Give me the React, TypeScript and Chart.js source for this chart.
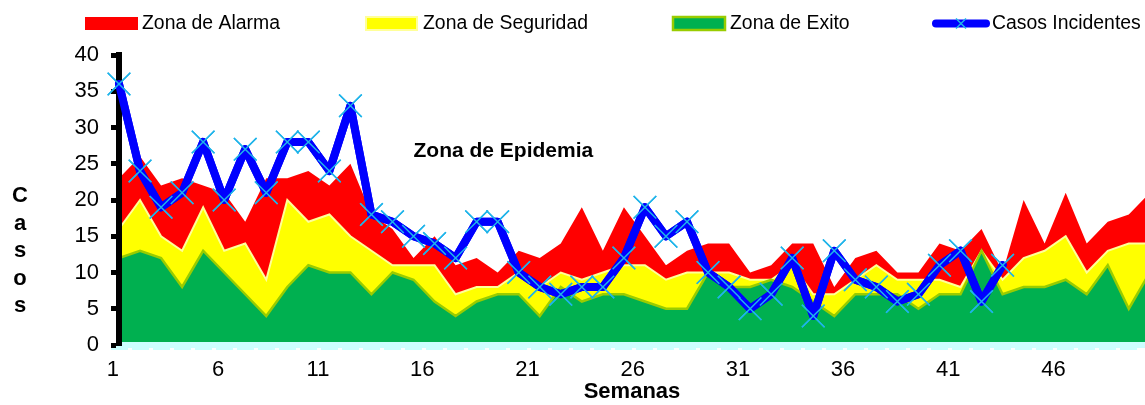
import React, { useEffect, useRef } from 'react';
import { Chart, registerables } from 'chart.js';

Chart.register(...registerables);

const FONT = "'Liberation Sans', Arial, Helvetica, sans-serif";

// ---- data ----
const weeks = [
  1, 2, 3, 4, 5, 6, 7, 8, 9, 10, 11, 12, 13, 14, 15, 16, 17, 18, 19, 20, 21, 22, 23, 24, 25,
  26, 27, 28, 29, 30, 31, 32, 33, 34, 35, 36, 37, 38, 39, 40, 41, 42, 43, 44, 45, 46, 47, 48, 49, 50,
];
const xTickLabels = [1, 6, 11, 16, 21, 26, 31, 36, 41, 46];

const zonaAlarma = [
  23, 26, 22, 23, 22, 21, 17, 23, 23, 24, 22, 25, 18, 16, 12, 15, 11, 12, 10, 13, 12, 14, 19, 13, 19,
  15, 11, 13, 14, 14, 10, 11, 14, 14, 8, 12, 13, 10, 10, 14, 13, 16, 10, 20, 14, 21, 14, 17, 18, 21,
];
const zonaSeguridad = [
  16, 20, 15, 13, 19, 13, 14, 9, 20, 17, 18, 15, 13, 11, 11, 11, 7, 8, 8, 10, 8, 10, 9, 10, 11,
  11, 9, 10, 10, 10, 9, 9, 11, 7, 7, 9, 11, 9, 9, 9, 8, 13, 9, 12, 13, 15, 10, 13, 14, 14,
];
const zonaExito = [
  12, 13, 12, 8, 13, 10, 7, 4, 8, 11, 10, 10, 7, 10, 9, 6, 4, 6, 7, 7, 4, 8, 6, 7, 7,
  6, 5, 5, 10, 8, 8, 9, 8, 6, 4, 7, 7, 7, 5, 7, 7, 13, 7, 8, 8, 9, 7, 11, 5, 10,
];
const casosIncidentes = [
  36, 24, 19, 21, 28, 20, 27, 21, 28, 28, 24, 33, 18, 17, 15, 14, 12, 17, 17, 10, 8, 7, 8, 8, 12,
  19, 15, 17, 10, 8, 5, 7, 12, 4, 13, 9, 8, 6, 7, 11, 13, 6, 11,
];

const seriesLabels = ['Zona de Alarma', 'Zona de Seguridad', 'Zona de Exito', 'Casos Incidentes'];
const yTitle = 'Casos';
const xTitle = 'Semanas';
const noteText = 'Zona de Epidemia';
const noteWeek = 15;
const noteValue = 26;

const X_MIN = 1;
const X_MAX = 49.77;
const Y_MIN = 0;
const Y_MAX = 40;
const Y_STEP = 5;

const toPoints = (vals: number[]) => vals.map((v, i) => ({ x: weeks[i], y: v }));

// ---- legend / decoration layout ----
const LEGEND_Y = 23.5;
const legendItems = [
  { ds: 3, kind: 'box', x: 85, w: 53, textX: 142 },
  { ds: 2, kind: 'box', x: 366, w: 51, textX: 423 },
  { ds: 1, kind: 'box', x: 673, w: 52, textX: 730 },
  { ds: 0, kind: 'line', x: 936, w: 50, textX: 992 },
];

const decorPlugin = {
  id: 'decor',
  afterDraw(chart: any) {
    const ctx: CanvasRenderingContext2D = chart.ctx;
    // incident line above the axis lines
    const meta = chart.getDatasetMeta(0);
    ctx.save();
    meta.controller.draw();
    ctx.restore();

    // legend
    ctx.save();
    legendItems.forEach((it) => {
      const ds = chart.data.datasets[it.ds];
      if (it.kind === 'box') {
        ctx.fillStyle = ds.backgroundColor;
        ctx.fillRect(it.x, LEGEND_Y - 6.5, it.w, 13);
        if (ds.borderWidth > 0) {
          ctx.strokeStyle = ds.borderColor;
          ctx.lineWidth = ds.borderWidth;
          ctx.strokeRect(it.x, LEGEND_Y - 6.5, it.w, 13);
        }
      } else {
        ctx.strokeStyle = ds.borderColor;
        ctx.lineWidth = 8;
        ctx.lineCap = 'round';
        ctx.beginPath();
        ctx.moveTo(it.x, LEGEND_Y);
        ctx.lineTo(it.x + it.w, LEGEND_Y);
        ctx.stroke();
        const cx = it.x + it.w / 2;
        ctx.strokeStyle = ds.pointBorderColor;
        ctx.lineWidth = 1.5;
        ctx.lineCap = 'butt';
        ctx.beginPath();
        ctx.moveTo(cx - 5, LEGEND_Y - 5);
        ctx.lineTo(cx + 5, LEGEND_Y + 5);
        ctx.moveTo(cx - 5, LEGEND_Y + 5);
        ctx.lineTo(cx + 5, LEGEND_Y - 5);
        ctx.stroke();
      }
      ctx.fillStyle = '#000';
      ctx.font = `19.4px ${FONT}`;
      ctx.textAlign = 'left';
      ctx.textBaseline = 'middle';
      ctx.fillText(ds.label, it.textX, LEGEND_Y + 0.5);
    });

    // vertical y title
    ctx.font = `bold 22px ${FONT}`;
    ctx.textAlign = 'center';
    ctx.textBaseline = 'alphabetic';
    ctx.fillStyle = '#000';
    yTitle.split('').forEach((ch, i) => {
      ctx.fillText(ch, 20, 202 + i * 27.5);
    });

    // zone note
    const xs = chart.scales.x;
    const ys = chart.scales.y;
    ctx.font = `bold 21px ${FONT}`;
    ctx.textAlign = 'left';
    ctx.fillText(noteText, xs.getPixelForValue(noteWeek), ys.getPixelForValue(noteValue));
    ctx.restore();
  },
};

export default function App() {
  const ref = useRef<HTMLCanvasElement>(null);

  useEffect(() => {
    if (!ref.current) return;
    const chart = new Chart(ref.current, {
      type: 'line',
      data: {
        datasets: [
          {
            label: seriesLabels[3],
            data: toPoints(casosIncidentes),
            borderColor: '#0000FF',
            backgroundColor: '#0000FF',
            borderWidth: 8,
            borderJoinStyle: 'round',
            borderCapStyle: 'round',
            pointStyle: 'crossRot',
            pointRadius: 16,
            pointBorderColor: '#1FB4EA',
            pointBackgroundColor: 'rgba(0,0,0,0)',
            pointBorderWidth: 1.5,
            fill: false,
            tension: 0,
            clip: false,
          } as any,
          {
            label: seriesLabels[2],
            data: toPoints(zonaExito),
            backgroundColor: '#00B050',
            borderColor: '#99CC00',
            borderWidth: 2.5,
            pointRadius: 0,
            fill: 'origin',
            tension: 0,
          },
          {
            label: seriesLabels[1],
            data: toPoints(zonaSeguridad),
            backgroundColor: '#FFFF00',
            borderColor: '#FFFF99',
            borderWidth: 2,
            pointRadius: 0,
            fill: 'origin',
            tension: 0,
          },
          {
            label: seriesLabels[0],
            data: toPoints(zonaAlarma),
            backgroundColor: '#FF0000',
            borderColor: '#FF0000',
            borderWidth: 0,
            pointRadius: 0,
            fill: 'origin',
            tension: 0,
          },
        ],
      },
      options: {
        responsive: false,
        animation: false,
        events: [],
        layout: { autoPadding: false, padding: { top: 55, left: 0, right: 0, bottom: 0 } },
        plugins: {
          legend: { display: false },
          tooltip: { enabled: false },
        },
        scales: {
          x: {
            type: 'linear',
            min: X_MIN,
            max: X_MAX,
            afterBuildTicks: (scale: any) => {
              scale.ticks = weeks.filter((w) => w <= X_MAX).map((w) => ({ value: w }));
            },
            afterFit: (scale: any) => {
              scale.height = 60;
            },
            ticks: {
              autoSkip: false,
              maxRotation: 0,
              minRotation: 0,
              align: 'end',
              padding: 7,
              color: '#000',
              font: { family: FONT, size: 22 },
              callback: (v: any) => (xTickLabels.includes(Number(v)) ? String(v) : ''),
            },
            grid: {
              drawOnChartArea: false,
              drawTicks: true,
              tickLength: 5,
              tickWidth: 17,
              tickColor: '#CCFFFF',
            },
            border: { display: true, color: '#CCFFFF', width: 6, z: 1 },
            title: {
              display: true,
              text: xTitle,
              color: '#000',
              font: { family: FONT, size: 22, weight: 'bold' },
              padding: { top: 0, bottom: 0 },
            },
          },
          y: {
            min: Y_MIN,
            max: Y_MAX,
            afterFit: (scale: any) => {
              scale.width = 119;
            },
            ticks: {
              stepSize: Y_STEP,
              padding: 12,
              color: '#000',
              font: { family: FONT, size: 22 },
            },
            grid: {
              drawOnChartArea: false,
              drawTicks: true,
              tickLength: 8,
              tickWidth: 5,
              tickColor: '#000',
            },
            border: { display: true, color: '#000', width: 6, z: 1 },
          },
        },
      } as any,
      plugins: [decorPlugin],
    });
    return () => chart.destroy();
  }, []);

  return (
    <div style={{ position: 'absolute', left: 0, top: 0, width: 1145, height: 405, background: '#fff' }}>
      <canvas ref={ref} width={1145} height={405} style={{ display: 'block' }} />
    </div>
  );
}
